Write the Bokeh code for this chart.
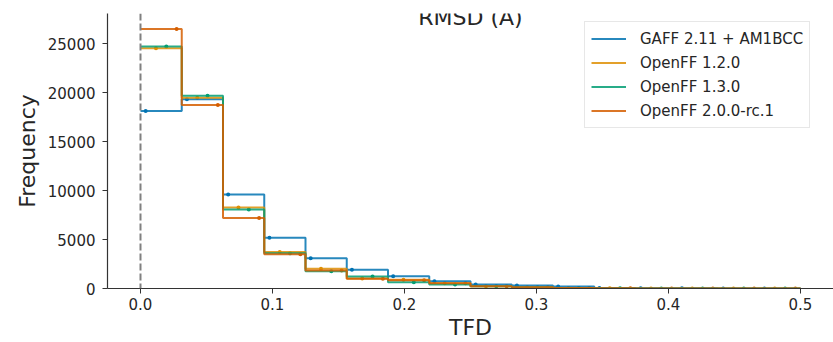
from bokeh.plotting import figure
from bokeh.models import (Range1d, FixedTicker, Label, Legend, LegendItem, Span,
                          NumeralTickFormatter)
from bokeh.embed import file_html
from bokeh.resources import INLINE

# ---- data -------------------------------------------------------------
bin_edges = [0.0, 0.03125, 0.0625, 0.09375, 0.125, 0.15625, 0.1875, 0.21875,
             0.25, 0.28125, 0.3125, 0.34375, 0.375, 0.40625, 0.4375, 0.46875, 0.5]
series_names = ["GAFF 2.11 + AM1BCC", "OpenFF 1.2.0", "OpenFF 1.3.0", "OpenFF 2.0.0-rc.1"]
gaff_counts = [18150, 19350, 9600, 5190, 3080, 1910, 1260, 750, 410, 300, 200, 60, 35, 20, 12, 8]
openff_120_counts = [24560, 19500, 8270, 3720, 2010, 1030, 900, 545, 236, 130, 60, 25, 12, 8, 5, 3]
openff_130_counts = [24730, 19700, 8065, 3600, 1775, 1230, 650, 410, 220, 120, 55, 22, 10, 6, 4, 2]
openff_200_counts = [26510, 18740, 7215, 3490, 1850, 1000, 850, 545, 236, 125, 55, 22, 10, 6, 4, 2]
colors = ["#0173b2", "#de8f05", "#029e73", "#d55e00"]
x_ticks = [0.0, 0.1, 0.2, 0.3, 0.4, 0.5]
y_ticks = [0, 5000, 10000, 15000, 20000, 25000]
title_text = "RMSD (Å)"
x_label = "TFD"
y_label = "Frequency"

all_counts = [gaff_counts, openff_120_counts, openff_130_counts, openff_200_counts]

FONT = "DejaVu Sans"
TXT = "#262626"

p = figure(width=833, height=342, output_backend="svg", toolbar_location=None,
           x_range=Range1d(-0.025, 0.525), y_range=Range1d(0, 28100),
           min_border_left=107, min_border_right=0, min_border_top=13,
           min_border_bottom=54)
p.outline_line_color = None
p.xgrid.visible = False
p.ygrid.visible = False
p.background_fill_color = "white"

for ax in (p.xaxis[0], p.yaxis[0]):
    ax.axis_line_color = "#333333"
    ax.axis_line_width = 1.2
    ax.major_tick_line_color = "#333333"
    ax.major_tick_out = 5
    ax.major_tick_in = 0
    ax.minor_tick_line_color = None
    ax.major_label_text_font = FONT
    ax.major_label_text_font_size = "15px"
    ax.major_label_text_color = TXT
    ax.axis_label_text_font = FONT
    ax.axis_label_text_font_size = "22px"
    ax.axis_label_text_font_style = "normal"
    ax.axis_label_text_color = TXT

p.xaxis.ticker = FixedTicker(ticks=x_ticks)
p.xaxis.formatter = NumeralTickFormatter(format="0.0")
p.yaxis.ticker = FixedTicker(ticks=y_ticks)
p.yaxis.formatter = NumeralTickFormatter(format="0")
p.xaxis.axis_label = x_label
p.yaxis.axis_label = y_label
p.xaxis.major_label_standoff = 4
p.xaxis.axis_label_standoff = 2
p.yaxis.major_label_standoff = 7
p.yaxis.axis_label_standoff = 5

p.add_layout(Span(location=0, dimension="height", line_color="#808080",
                  line_dash="7 3", line_width=2))

nser = len(all_counts)
# dodged point markers (drawn first so the step lines sit over them)
for k, (counts, col) in enumerate(zip(all_counts, colors)):
    mx = [bin_edges[i] + (k + 0.5) / nser * (bin_edges[i + 1] - bin_edges[i])
          for i in range(len(counts))]
    p.scatter(mx, counts, size=4, color=col, line_color=None)

items = []
for k, (name, counts, col) in enumerate(zip(series_names, all_counts, colors)):
    xs, ys = [], []
    for i, v in enumerate(counts):
        xs += [bin_edges[i], bin_edges[i + 1]]
        ys += [v, v]
    r = p.line(xs, ys, line_color=col, line_width=2, line_alpha=0.85)
    items.append(LegendItem(label=name, renderers=[r]))

legend = Legend(items=items, location=(477, 160), margin=0, padding=6, spacing=3,
                glyph_width=35, glyph_height=21, label_height=21, label_standoff=14,
                label_text_font=FONT, label_text_font_size="15px",
                label_text_color=TXT, border_line_color="#d0d0d0",
                border_line_width=1, background_fill_alpha=0.8)
p.add_layout(legend)

# title: kept fully visible at the top of the canvas
p.add_layout(Label(x=0.25, y=27700, text=title_text, text_align="center",
                   text_baseline="alphabetic", text_font=FONT,
                   text_font_size="22px", text_color=TXT))

open("out.html", "w").write(file_html(p, INLINE))
